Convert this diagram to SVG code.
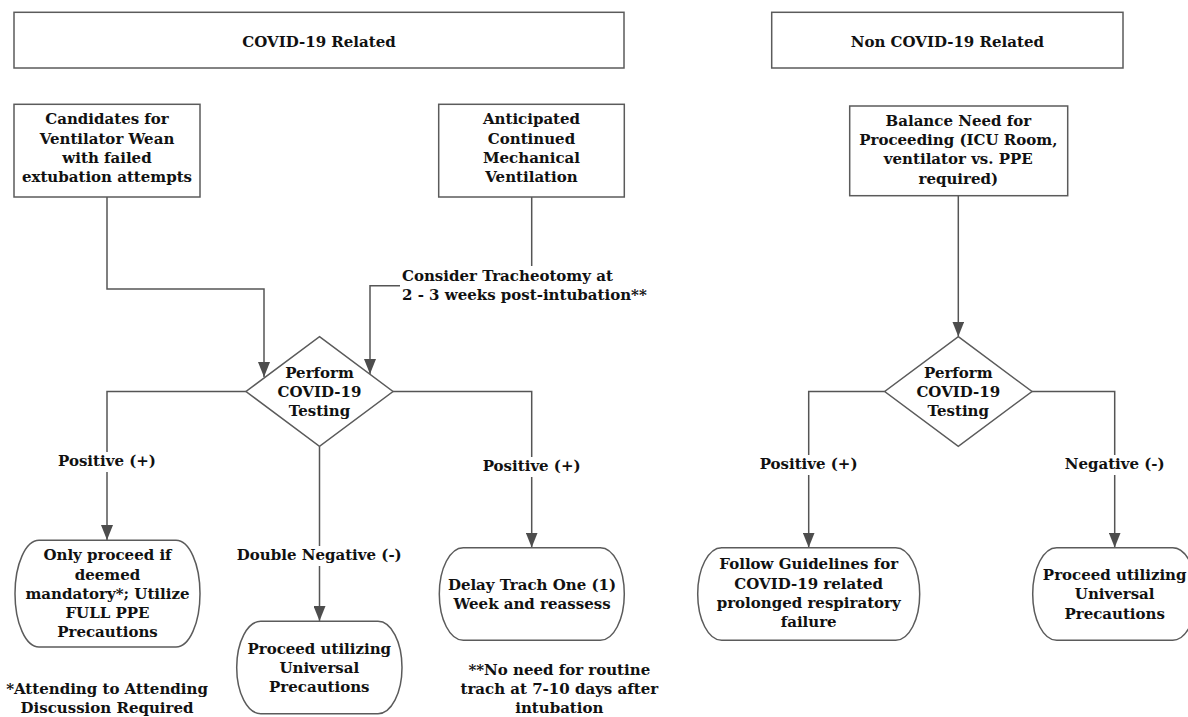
<svg xmlns="http://www.w3.org/2000/svg" width="1188" height="717" viewBox="0 0 1188 717">
<defs>
<style>
.box{fill:#fff;stroke:#5b5b5b;stroke-width:1.5}
.con{fill:none;stroke:#555;stroke-width:1.5}
.t{font-family:"DejaVu Serif","Liberation Serif",serif;font-weight:bold;font-size:15px;fill:#111;text-anchor:middle}
.tl{font-family:"DejaVu Serif","Liberation Serif",serif;font-weight:bold;font-size:15px;fill:#111;text-anchor:start}
.bg{fill:#fff}
</style>
<marker id="ah" markerUnits="userSpaceOnUse" markerWidth="15" markerHeight="12" refX="15" refY="6" orient="auto">
<path d="M0,0 L15,6 L0,12 z" fill="#4d4d4d"/>
</marker>
</defs>
<rect width="1188" height="717" fill="#fff"/>

<g id="connectors">
<path class="con" d="M107,197 V289 H264 V377" marker-end="url(#ah)"/>
<path class="con" d="M531.7,197 V285.7 H370 V374" marker-end="url(#ah)"/>
<path class="con" d="M246,391.5 H107 V540" marker-end="url(#ah)"/>
<path class="con" d="M319.5,446.3 V621" marker-end="url(#ah)"/>
<path class="con" d="M393,391.5 H531.7 V547.5" marker-end="url(#ah)"/>
<path class="con" d="M958.3,195.7 V336.5" marker-end="url(#ah)"/>
<path class="con" d="M884.7,391.5 H808.7 V547.5" marker-end="url(#ah)"/>
<path class="con" d="M1032,391.5 H1114.7 V547.5" marker-end="url(#ah)"/>
<rect class="bg" x="400" y="266" width="245" height="40"/>
<text class="tl" x="402" y="281">Consider Tracheotomy at</text>
<text class="tl" x="402" y="300">2 - 3 weeks post-intubation**</text>
<rect class="bg" x="61" y="452" width="96" height="20"/>
<text class="t" x="107" y="466.3">Positive (+)</text>
<rect class="bg" x="483" y="457" width="97" height="20"/>
<text class="t" x="531.7" y="471.3">Positive (+)</text>
<rect class="bg" x="238" y="546" width="162" height="20"/>
<text class="t" x="319.3" y="560.3">Double Negative (-)</text>
<rect class="bg" x="760" y="455" width="97" height="20"/>
<text class="t" x="808.6" y="469.3">Positive (+)</text>
<rect class="bg" x="1066" y="455" width="98" height="20"/>
<text class="t" x="1114.7" y="469.3">Negative (-)</text>
</g>

<g id="covid-header">
<rect class="box" x="14" y="12.3" width="610" height="55.7"/>
<text class="t" x="319" y="47">COVID-19 Related</text>
</g>
<g id="noncovid-header">
<rect class="box" x="771.7" y="12.3" width="351.3" height="55.7"/>
<text class="t" x="947.3" y="47">Non COVID-19 Related</text>
</g>
<g id="candidates">
<rect class="box" x="14" y="104.3" width="186" height="92.7"/>
<text class="t" x="107" y="124.3">Candidates for</text>
<text class="t" x="107" y="143.6">Ventilator Wean</text>
<text class="t" x="107" y="162.9">with failed</text>
<text class="t" x="107" y="182.2">extubation attempts</text>
</g>
<g id="anticipated">
<rect class="box" x="438.7" y="104.3" width="185.6" height="92.7"/>
<text class="t" x="531.5" y="124.3">Anticipated</text>
<text class="t" x="531.5" y="143.6">Continued</text>
<text class="t" x="531.5" y="162.9">Mechanical</text>
<text class="t" x="531.5" y="182.2">Ventilation</text>
</g>
<g id="balance">
<rect class="box" x="849.7" y="106" width="218" height="89.7"/>
<text class="t" x="958.3" y="125.7">Balance Need for</text>
<text class="t" x="958.3" y="145">Proceeding (ICU Room,</text>
<text class="t" x="958.3" y="164.3">ventilator vs. PPE</text>
<text class="t" x="958.3" y="183.5">required)</text>
</g>
<g id="test1">
<polygon class="box" points="319.5,336.7 393,391.5 319.5,446.3 246,391.5"/>
<text class="t" x="319.5" y="378">Perform</text>
<text class="t" x="319.5" y="397">COVID-19</text>
<text class="t" x="319.5" y="416">Testing</text>
</g>
<g id="test2">
<polygon class="box" points="958.3,336.7 1032,391.5 958.3,446.3 884.7,391.5"/>
<text class="t" x="958.3" y="378">Perform</text>
<text class="t" x="958.3" y="397">COVID-19</text>
<text class="t" x="958.3" y="416">Testing</text>
</g>
<g id="full-ppe">
<rect class="box" x="15" y="540.3" width="185" height="106.7" rx="24" ry="53.3"/>
<text class="t" x="107.5" y="560.3">Only proceed if</text>
<text class="t" x="107.5" y="579.5">deemed</text>
<text class="t" x="107.5" y="598.8">mandatory*; Utilize</text>
<text class="t" x="107.5" y="618">FULL PPE</text>
<text class="t" x="107.5" y="637.3">Precautions</text>
</g>
<g id="universal1">
<rect class="box" x="236.7" y="621.3" width="165.3" height="92.4" rx="24" ry="46.2"/>
<text class="t" x="319.3" y="653.7">Proceed utilizing</text>
<text class="t" x="319.3" y="672.7">Universal</text>
<text class="t" x="319.3" y="692">Precautions</text>
</g>
<g id="delay">
<rect class="box" x="439.3" y="547.7" width="185" height="92.6" rx="24" ry="46.3"/>
<text class="t" x="532" y="590.3">Delay Trach One (1)</text>
<text class="t" x="532" y="609.3">Week and reassess</text>
</g>
<g id="follow">
<rect class="box" x="697.7" y="547.7" width="222" height="92.6" rx="24" ry="46.3"/>
<text class="t" x="808.7" y="569.3">Follow Guidelines for</text>
<text class="t" x="808.7" y="588.6">COVID-19 related</text>
<text class="t" x="808.7" y="607.9">prolonged respiratory</text>
<text class="t" x="808.7" y="627.2">failure</text>
</g>
<g id="universal2">
<rect class="box" x="1032.7" y="547.7" width="164" height="92.6" rx="24" ry="46.3"/>
<text class="t" x="1114.7" y="580.3">Proceed utilizing</text>
<text class="t" x="1114.7" y="599.3">Universal</text>
<text class="t" x="1114.7" y="618.7">Precautions</text>
</g>
<g id="note1">
<text class="t" x="107" y="694">*Attending to Attending</text>
<text class="t" x="107" y="712.5">Discussion Required</text>
</g>
<g id="note2">
<text class="t" x="559.3" y="675">**No need for routine</text>
<text class="t" x="559.3" y="694">trach at 7-10 days after</text>
<text class="t" x="559.3" y="712.5">intubation</text>
</g>
</svg>
